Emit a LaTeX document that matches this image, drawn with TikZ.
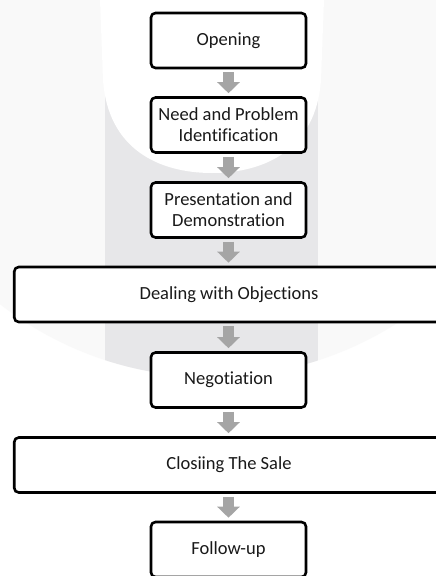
\documentclass[tikz,border=0pt]{standalone}
\usepackage{fontspec}
\setmainfont{Carlito}[Ligatures=NoCommon]
\usetikzlibrary{arrows.meta}
\definecolor{wmlight}{HTML}{F9F9F9}
\definecolor{wmband}{HTML}{E7E7E9}
\definecolor{arrowgray}{HTML}{A5A5A5}
\tikzset{
  stepbox/.style={draw=black, line width=2.6pt, rounded corners=4.5pt, fill=white,
    minimum width=155pt, minimum height=55pt, align=center, inner sep=2pt,
    font=\fontsize{18.5}{21}\selectfont, text=black!90},
  widebox/.style={stepbox, minimum width=429.5pt},
  flowarrow/.style={draw=arrowgray, line width=11pt,
    -{Triangle[width=22pt,length=11pt]}, shorten <=3pt, shorten >=3pt}
}
\begin{document}
\begin{tikzpicture}[x=1pt,y=-1pt]
\useasboundingbox (0,0) rectangle (436,576);
\clip (0,0) rectangle (436,576);
\fill[white] (0,0) rectangle (436,576);
% watermark
\fill[wmlight] (212,32) circle (345);
\begin{scope}
  \clip (212,32) circle (345);
  \fill[wmband] (105,-5) rectangle (318,600);
\end{scope}
\fill[white] (100,-5) -- (100,0) -- (103,80)
  .. controls (108,150) and (160,173) .. (212,173)
  .. controls (264,173) and (316,150) .. (321,80)
  -- (324,0) -- (324,-5) -- cycle;
% steps
\node[stepbox] (open) at (228.5,40.5) {Opening};
\node[stepbox] (need) at (228.5,125) {Need and Problem\\Identification};
\node[stepbox] (pres) at (228.5,210) {Presentation and\\Demonstration};
\node[widebox] (deal) at (229,294.5) {Dealing with Objections};
\node[stepbox] (nego) at (228.5,380) {Negotiation};
\node[widebox] (close) at (229,465) {Closiing The Sale};
\node[stepbox] (follow) at (228.5,549.5) {Follow-up};
% arrows
\draw[flowarrow] (open.south) -- (need.north);
\draw[flowarrow] (need.south) -- (pres.north);
\draw[flowarrow] (pres.south) -- (pres.south |- deal.north);
\draw[flowarrow] (nego.north |- deal.south) -- (nego.north);
\draw[flowarrow] (nego.south) -- (nego.south |- close.north);
\draw[flowarrow] (follow.north |- close.south) -- (follow.north);
\end{tikzpicture}
\end{document}
